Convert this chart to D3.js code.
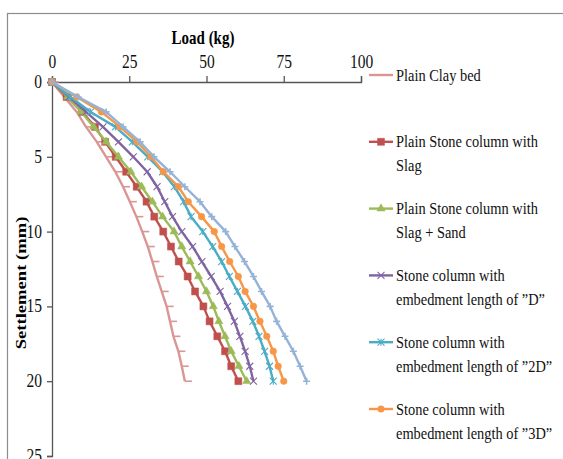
<!DOCTYPE html>
<html><head><meta charset="utf-8">
<script src="https://cdn.jsdelivr.net/npm/d3@7"></script>
<style>body{margin:0;background:#fff;}svg{display:block;}</style>
</head><body>
<svg id="c" width="563" height="459"></svg>
<script>
const settlement = d3.range(0, 21, 1);
const xTicks = [0, 25, 50, 75, 100];
const yTicks = [0, 5, 10, 15, 20, 25];
const names = ["Plain Clay bed", "Plain Stone column with|Slag", "Plain Stone column with|Slag + Sand",
  "Stone column with|embedment length of ”D”", "Stone column with|embedment length of ”2D”",
  "Stone column with|embedment length of ”3D”", ""];
const clay   = [0, 4, 8, 11, 14.5, 17.5, 20.5, 23, 25.2, 27.3, 29.2, 31, 32.5, 33.9, 35.5, 37.1, 38.2, 39.3, 40.9, 42, 43];
const slag   = [0, 4.7, 9.8, 13.9, 17.2, 20.6, 24, 27.4, 30.6, 33.1, 36, 38.5, 41, 43.9, 46.3, 49, 51, 53.5, 56, 58, 60.3];
const slagSand = [0, 5, 9.5, 13.5, 17.5, 21.5, 25.5, 29, 32.5, 35.8, 39.5, 42, 44.7, 47.4, 50, 52.2, 54, 56, 58, 60.5, 63];
const embD   = [0, 5.5, 11, 16.5, 21.5, 26.3, 30.8, 34, 36.5, 39, 42, 45.5, 48.5, 51.5, 54.4, 56.8, 59, 60.8, 62.5, 64, 65.2];
const emb2D  = [0, 6, 12.5, 20.5, 26, 31, 35.8, 39.6, 42.6, 45, 48.8, 52, 54.9, 57.4, 60, 62.6, 65, 67, 68.8, 70.4, 71.6];
const emb3D  = [0, 8, 16, 22, 27.5, 32, 36, 40.9, 44.1, 48.4, 52.5, 54.9, 57.5, 60.3, 62.5, 65.2, 67.3, 69.5, 71.6, 73.2, 75];
const emb4D  = [0, 8.5, 17.5, 23, 28.5, 33, 38.2, 43, 47.9, 51.7, 56.2, 59.2, 62.3, 65.2, 67.8, 70.6, 72.7, 75.4, 78.1, 80.3, 82.4];
const seriesValues = [clay, slag, slagSand, embD, emb2D, emb3D, emb4D];
const colors = ["#D99694", "#C0504D", "#9BBB59", "#8064A2", "#4BACC6", "#F79646", "#95B3D7"];
const markers = ["dash", "square", "triangle", "x", "star", "circle", "plus"];

const svg = d3.select("#c");
const font = "'Liberation Serif','Times New Roman',serif";
const stretch = 1.2;
// frame
svg.append("rect").attr("x", 7.5).attr("y", 13.5).attr("width", 600).attr("height", 500)
  .attr("fill", "none").attr("stroke", "#8c8c8c").attr("stroke-width", 1.2);

const x = d3.scaleLinear().domain([0, 100]).range([52, 361]);
const y = d3.scaleLinear().domain([0, 25]).range([82, 456]);

const gx = svg.append("g").attr("transform", `translate(0,${y(0)})`)
  .call(d3.axisTop(x).tickValues(xTicks).tickSize(6));
const gy = svg.append("g").attr("transform", `translate(${x(0)},0)`)
  .call(d3.axisLeft(y).tickValues(yTicks).tickSize(5));
[gx, gy].forEach(g => {
  g.select(".domain").attr("stroke", "#555").attr("stroke-width", 1.3);
  g.selectAll(".tick line").attr("stroke", "#555").attr("stroke-width", 1.3);
  g.selectAll(".tick text").attr("font-family", font).attr("font-size", 15.5).attr("fill", "#111");
});
gx.selectAll(".tick text").attr("y", null).attr("dy", null)
  .attr("transform", `translate(0,-14) scale(1,${stretch})`);
gy.selectAll(".tick text").attr("x", null).attr("dy", null)
  .attr("transform", `translate(-10,5.5) scale(1,${stretch})`);

svg.append("text").attr("transform", `translate(203,44) scale(1,${stretch})`).attr("text-anchor", "middle")
  .attr("font-family", font).attr("font-weight", "bold").attr("font-size", 15).text("Load (kg)");
svg.append("text").attr("transform", `translate(26,283) rotate(-90) scale(${stretch},1)`).attr("text-anchor", "middle")
  .attr("font-family", font).attr("font-weight", "bold").attr("font-size", 15.5).text("Settlement (mm)");

function markerPath(type, s) {
  const h = s / 2;
  switch (type) {
    case "dash": return `M0,0L${s},0`;
    case "x": return `M${-h},${-h}L${h},${h}M${-h},${h}L${h},${-h}`;
    case "star": return `M${-h},${-h}L${h},${h}M${-h},${h}L${h},${-h}M0,${-h}L0,${h}`;
    case "plus": return `M${-h},0L${h},0M0,${-h}L0,${h}`;
    case "square": return d3.symbol(d3.symbolSquare, s * s)();
    case "triangle": return d3.symbol(d3.symbolTriangle, s * s * 0.6)();
    case "circle": return d3.symbol(d3.symbolCircle, s * s * 0.7)();
  }
}
function drawMarker(g, type, color, cx, cy, s) {
  const filled = ["square", "triangle", "circle"].includes(type);
  g.append("path").attr("d", markerPath(type, s)).attr("transform", `translate(${cx},${cy})`)
    .attr("fill", filled ? color : "none").attr("stroke", color)
    .attr("stroke-width", filled ? 0.5 : (type === "x" || type === "star" ? 1.1 : 1.6));
}

const line = d3.line().x(d => x(d[0])).y(d => y(d[1]));
seriesValues.forEach((vals, i) => {
  const pts = vals.map((v, j) => [v, settlement[j]]);
  const g = svg.append("g");
  g.append("path").attr("d", line(pts)).attr("fill", "none").attr("stroke", colors[i])
    .attr("stroke-width", 2.4).attr("stroke-linejoin", "round");
  pts.forEach(p => drawMarker(g, markers[i], colors[i], x(p[0]), y(p[1]), 7));
});

// legend
const legendTop = 75, legendStep = 66.8, lineH = 24;
names.forEach((nm, i) => {
  if (!nm) return;
  const ly = legendTop + i * legendStep;
  const g = svg.append("g");
  g.append("line").attr("x1", 369).attr("x2", 393).attr("y1", ly).attr("y2", ly)
    .attr("stroke", colors[i]).attr("stroke-width", 2.4);
  drawMarker(g, markers[i], colors[i], markers[i] === "dash" ? 378 : 381, ly, 7);
  nm.split("|").forEach((part, k) => {
    g.append("text").attr("font-family", font).attr("font-size", 14.4).attr("fill", "#111")
      .attr("transform", `translate(396,${ly + 5.5 + k * lineH}) scale(1,${stretch})`).text(part);
  });
});
</script>
</body></html>
